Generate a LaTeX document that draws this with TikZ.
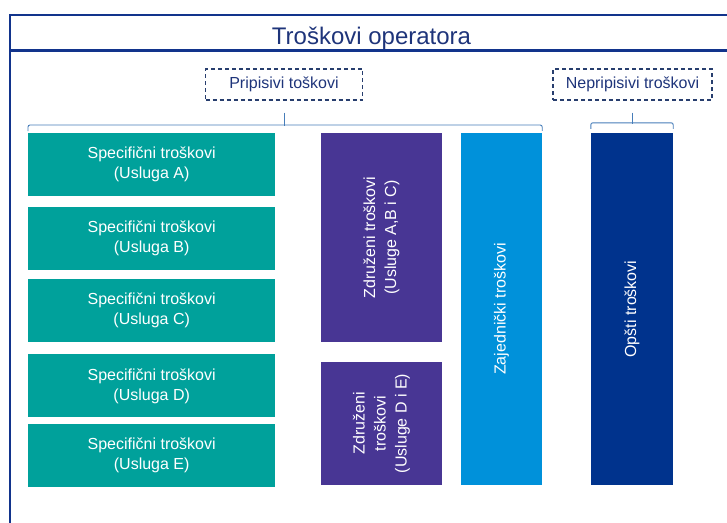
\documentclass[tikz,border=0pt]{standalone}
\usepackage{fontspec}
\setmainfont{Liberation Sans}
\usepackage{tikz}
\usetikzlibrary{positioning}
\usepackage{xcolor}
\definecolor{trteal}{RGB}{0,161,155}
\definecolor{trpurple}{RGB}{72,54,148}
\definecolor{trlightblue}{RGB}{0,145,218}
\definecolor{trnavy}{RGB}{0,51,141}
\definecolor{trframe}{RGB}{18,52,140}
\definecolor{trlabel}{RGB}{30,52,122}
\definecolor{trdash}{RGB}{40,62,110}
\definecolor{trbrace}{RGB}{70,125,185}
\tikzstyle{specbox} = [rectangle, minimum width=247pt, minimum height=63pt, inner sep=0pt, align=center, fill=trteal, text=white, font=\fontsize{16}{20}\selectfont]
\tikzstyle{tallbox} = [rectangle, rotate=90, inner sep=0pt, align=center, text=white, font=\fontsize{16}{21}\selectfont]
\tikzstyle{groupbox} = [rectangle, draw=trdash, dash pattern=on 4pt off 3pt, line width=1.1pt, minimum height=31pt, inner sep=0pt, text=trlabel, font=\fontsize{16}{20}\selectfont]
\tikzstyle{bracket} = [draw=trbrace, line width=0.9pt, rounded corners=2pt]
\tikzstyle{frame} = [draw=trframe, line width=2pt]

\begin{document}
\begin{tikzpicture}[x=1pt, y=-1pt]
\useasboundingbox (0,0) rectangle (727,522);
\clip (0,0) rectangle (727,522);
% frame and title
\draw[frame] (10,540) |- (740,15);
\draw[frame, line width=3.5pt] (10,50.5) -- (740,50.5);
\node (title) [anchor=base, text=trlabel, font=\fontsize{24}{28}\selectfont] at (371.5,44) {Troškovi operatora};

% group labels
\node (prip) [groupbox, minimum width=157pt] at (284,84.5) {Pripisivi toškovi};
\node (nepr) [groupbox, minimum width=159pt] at (632.5,84.5) {Nepripisivi troškovi};

% specific costs
\node (specA) [specbox, anchor=north west] at (28,133) {Specifični troškovi\\(Usluga A)};
\node (specB) [specbox, below=10pt of specA] {Specifični troškovi\\(Usluga B)};
\node (specC) [specbox, below=9pt of specB] {Specifični troškovi\\(Usluga C)};
\node (specD) [specbox, below=12pt of specC] {Specifični troškovi\\(Usluga D)};
\node (specE) [specbox, below=6pt of specD] {Specifični troškovi\\(Usluga E)};

% joint, common and general costs (rotated: south east is the top right)
\node (zdrABC) [tallbox, minimum width=209pt, minimum height=121pt, fill=trpurple] at (381.5,237.5) {Združeni troškovi\\(Usluge A,B i C)};
\node (zdrDE) [tallbox, minimum width=123pt, minimum height=121pt, fill=trpurple] at (381.5,423.5) {Združeni\\troškovi\\(Usluge D i E)};
\node (zaj) [tallbox, minimum width=352pt, minimum height=81pt, fill=trlightblue] at (501.5,309) {Zajednički troškovi};
\node (ops) [tallbox, minimum width=352pt, minimum height=82pt, fill=trnavy] at (632,309) {Opšti troškovi};

% brackets
\draw[bracket] ([yshift=2pt]specA.north west) -- ++(0,-6) -| ([yshift=2pt]zaj.south east);
\draw[bracket] ([yshift=-12pt]prip.south) -- ++(0,13);
\draw[bracket] ([yshift=4pt]ops.north east) -- ++(0,-6) -| ([yshift=4pt]ops.south east);
\draw[bracket] ([yshift=-12pt]nepr.south) -- ++(0,11);
\end{tikzpicture}
\end{document}
